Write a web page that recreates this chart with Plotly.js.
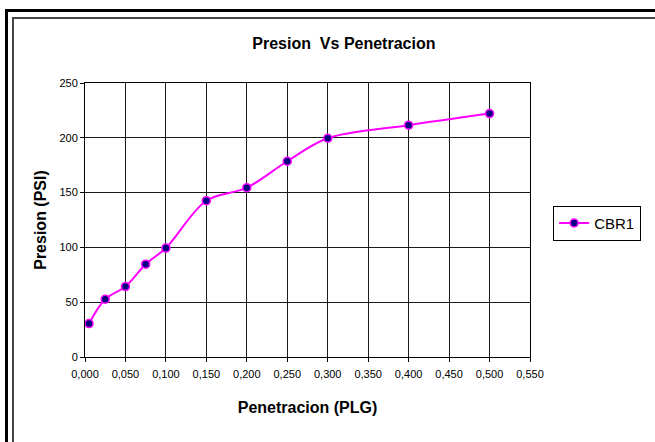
<!DOCTYPE html>
<html>
<head>
<meta charset="utf-8">
<script src="https://cdn.plot.ly/plotly-3.0.1.min.js"></script>
<style>
  html, body { margin: 0; padding: 0; background: #fff; }
  #wrap { position: relative; width: 655px; height: 442px; overflow: hidden; }
  #chart { position: absolute; left: 0; top: 0; width: 655px; height: 442px; }
  .frame { position: absolute; pointer-events: none; }
  #outer { left: 5px; top: 9px; right: -10px; bottom: -10px; border-left: 3px solid #000; border-top: 3px solid #000; }
  #inner { left: 12px; top: 17px; right: -10px; bottom: -10px; border-left: 2px solid #444; border-top: 2px solid #444; }
</style>
</head>
<body>
<div id="wrap">
  <div id="chart"></div>
  <div class="frame" id="outer"></div>
  <div class="frame" id="inner"></div>
</div>
<script>
// Data
const penetracion = [0.005, 0.025, 0.050, 0.075, 0.100, 0.150, 0.200, 0.250, 0.300, 0.400, 0.500];
const presion     = [30.5, 52.7, 64.3, 84.7, 99.4, 142.6, 154.5, 178.6, 199.6, 211.5, 222.1];
const seriesName  = "CBR1";
const chartTitle  = "Presion\u00a0 Vs Penetracion";
const xTitle      = "Penetracion (PLG)";
const yTitle      = "Presion (PSI)";

const trace = {
  x: penetracion,
  y: presion,
  name: seriesName,
  type: "scatter",
  mode: "lines+markers",
  line: { color: "#FF00FF", width: 2, shape: "spline", smoothing: 1 },
  marker: { color: "#000080", size: 8, line: { color: "#FF00FF", width: 1.5 } }
};

const layout = {
  width: 655,
  height: 442,
  margin: { l: 85, r: 125, t: 83, b: 85 },
  paper_bgcolor: "#ffffff",
  plot_bgcolor: "#ffffff",
  separators: ",.",
  font: { family: "Arial, 'Liberation Sans', sans-serif", color: "#000" },
  title: {
    text: "<b>" + chartTitle + "</b>",
    font: { size: 16, color: "#000" },
    xref: "container", x: 0.525, xanchor: "center",
    yref: "container", y: 0.902, yanchor: "middle"
  },
  xaxis: {
    range: [0, 0.55],
    tick0: 0, dtick: 0.05,
    tickformat: ".3f",
    showgrid: true, gridcolor: "#1a1a1a", gridwidth: 1,
    showline: true, linecolor: "#000", linewidth: 1, mirror: true,
    ticks: "outside", ticklen: 4, tickcolor: "#000",
    ticklabelstandoff: 3,
    zeroline: false,
    tickfont: { size: 11, color: "#000" },
    title: { text: "<b>" + xTitle + "</b>", font: { size: 16, color: "#000" }, standoff: 22 }
  },
  yaxis: {
    range: [0, 250],
    tick0: 0, dtick: 50,
    showgrid: true, gridcolor: "#1a1a1a", gridwidth: 1,
    showline: true, linecolor: "#000", linewidth: 1, mirror: true,
    ticks: "outside", ticklen: 4, tickcolor: "#000",
    zeroline: false,
    tickfont: { size: 11, color: "#000" },
    title: { text: "<b>" + yTitle + "</b>", font: { size: 16, color: "#000" }, standoff: 8 }
  },
  showlegend: true,
  legend: {
    x: 1.052, xanchor: "left",
    y: 0.552, yanchor: "top",
    bordercolor: "#000", borderwidth: 1,
    bgcolor: "#fff",
    font: { size: 15, color: "#000" }
  }
};

Plotly.newPlot("chart", [trace], layout, { displayModeBar: false, staticPlot: true });
</script>
</body>
</html>
